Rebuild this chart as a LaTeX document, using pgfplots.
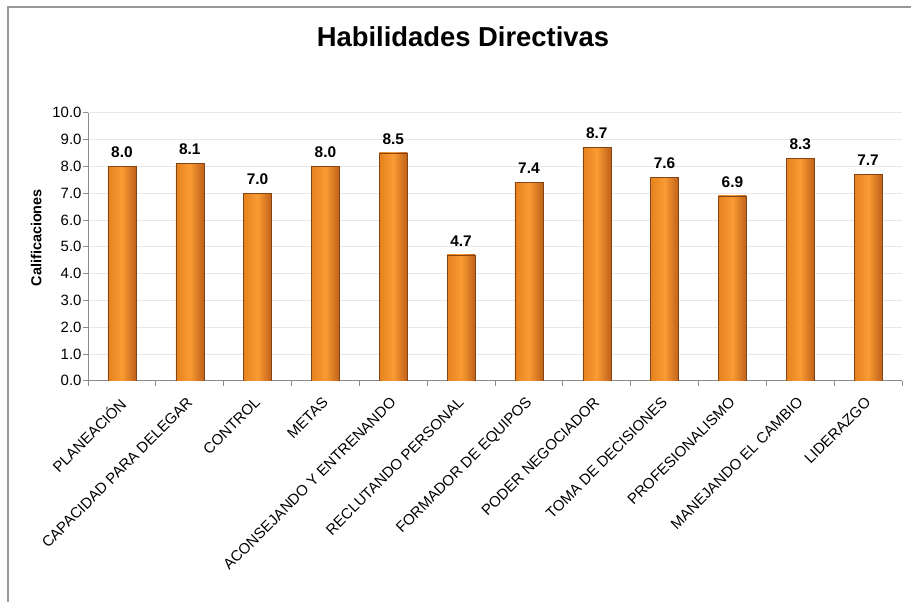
\documentclass[border=0pt]{standalone}
\usepackage{pgfplots}
\pgfplotsset{compat=1.18}
\usepackage{fontspec}
\setmainfont{Liberation Sans}
\definecolor{barmid}{HTML}{FA9B33}
\definecolor{barleft}{HTML}{E5821F}
\definecolor{barright}{HTML}{BF611A}
\definecolor{axgray}{HTML}{8C8C8C}
\definecolor{gridgray}{HTML}{E8E8E8}
\pgfplotsset{cyl/.style={bar shift=0pt, draw=barright!70!black, line width=0.4bp, left color=barleft, right color=barright, middle color=barmid}}
\begin{document}
\begin{tikzpicture}
\useasboundingbox (0,0) rectangle (911bp,-602bp);
\draw[draw=gray!80, line width=1.2bp] (8bp,-602bp) -- (8bp,-7bp) -- (911bp,-7bp);
\node[font=\bfseries\fontsize{27.5}{32}\selectfont] at (463bp,-37bp) {Habilidades Directivas};
\begin{axis}[
  at={(88bp,-380.7bp)}, anchor=south west,
  scale only axis, width=814bp, height=268bp,
  xmin=-0.5, xmax=11.5, ymin=0, ymax=10, enlargelimits=false,
  axis lines*=left,
  axis line style={axgray, line width=0.8bp},
  ybar, bar width=28bp,
  ytick={0,1,...,10},
  ymajorgrids, grid style={gridgray, line width=0.8bp},
  xtick={-0.5,0.5,...,11.5},
  x tick label as interval,
  xticklabels={PLANEACIÓN, CAPACIDAD PARA DELEGAR, CONTROL, METAS, ACONSEJANDO Y ENTRENANDO, RECLUTANDO PERSONAL, FORMADOR DE EQUIPOS, PODER NEGOCIADOR, TOMA DE DECISIONES, PROFESIONALISMO, MANEJANDO EL CAMBIO, LIDERAZGO},
  xticklabel style={rotate=45, anchor=north east, font=\fontsize{15}{17}\selectfont, inner sep=1pt, xshift=-9bp, yshift=-3.5bp},
  yticklabel style={font=\fontsize{15}{17}\selectfont, xshift=2bp, /pgf/number format/.cd, fixed, fixed zerofill, precision=1, assume math mode=true},
  tick align=outside, major tick length=5bp,
  tick style={axgray, line width=0.8bp},
  ylabel={Calificaciones},
  ylabel style={font=\bfseries\fontsize{14.5}{16}\selectfont, xshift=9bp, yshift=4bp},
  nodes near coords,
  every node near coord/.append style={font=\bfseries\fontsize{15.5}{17}\selectfont, yshift=5bp, /pgf/number format/.cd, fixed, fixed zerofill, precision=1, assume math mode=true},
]
\addplot[cyl] coordinates {(0,8.0)};
\addplot[cyl] coordinates {(1,8.1)};
\addplot[cyl] coordinates {(2,7.0)};
\addplot[cyl] coordinates {(3,8.0)};
\addplot[cyl] coordinates {(4,8.5)};
\addplot[cyl] coordinates {(5,4.7)};
\addplot[cyl] coordinates {(6,7.4)};
\addplot[cyl] coordinates {(7,8.7)};
\addplot[cyl] coordinates {(8,7.6)};
\addplot[cyl] coordinates {(9,6.9)};
\addplot[cyl] coordinates {(10,8.3)};
\addplot[cyl] coordinates {(11,7.7)};
\end{axis}
\end{tikzpicture}
\end{document}
